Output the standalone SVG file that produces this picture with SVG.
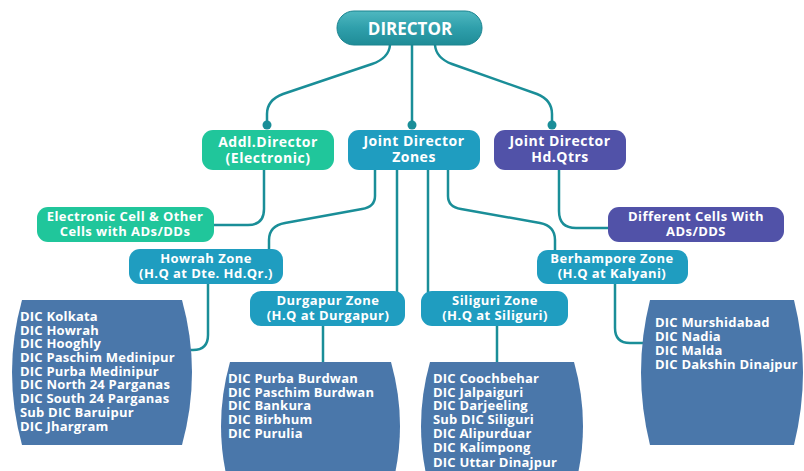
<svg xmlns="http://www.w3.org/2000/svg" width="804" height="471" viewBox="0 0 804 471">
<defs>
<linearGradient id="gDir" x1="0" y1="0" x2="0" y2="1">
<stop offset="0" stop-color="#4fb8c0"/>
<stop offset="0.5" stop-color="#2f9fab"/>
<stop offset="1" stop-color="#1f8c97"/>
</linearGradient>
<style>
.t{font-family:"Open Sans","Liberation Sans",sans-serif;font-weight:700;fill:#ffffff;}
.c{text-anchor:middle;}
.top{font-size:14px;letter-spacing:0.5px;}
.z{font-size:13px;letter-spacing:0.45px;}
.l{font-size:13px;letter-spacing:0.2px;}
.con{fill:none;stroke:#1a8e98;stroke-width:2.5;stroke-linejoin:round;stroke-linecap:round;}
.dot{fill:#1a8e98;}
.green{fill:#20c69b;}
.teal{fill:#1f9dc0;}
.purple{fill:#5152a8;}
.dic{fill:#4a77aa;}
</style>
</defs>
<rect width="804" height="471" fill="#ffffff"/>

<g id="connectors">
<path class="con" d="M390,45 Q389,58 372,64 L283,94 Q267,100 267,114 V124"/>
<path class="con" d="M412,45 V124"/>
<path class="con" d="M435,45 Q436,58 452,64 L537,94 Q552,100 552,114 V124"/>
<path class="con" d="M264,170 V209 Q264,225 248,225 H214"/>
<path class="con" d="M559,170 V211 Q559,228 576,228 H608"/>
<path class="con" d="M375,170 V196 Q375,207 362,209 L285,223 Q269,226 269,240 V249"/>
<path class="con" d="M397,170 V292"/>
<path class="con" d="M428,170 V292"/>
<path class="con" d="M448,170 V196 Q448,207 461,209 L540,223 Q555,226 555,240 V250"/>
<path class="con" d="M208,284 V335 Q208,350 193,350 H189"/>
<path class="con" d="M323,326 V362"/>
<path class="con" d="M497,326 V362"/>
<path class="con" d="M615,284 V328 Q615,343 630,343 H643"/>
<circle class="dot" cx="267" cy="125" r="4.5"/>
<circle class="dot" cx="412" cy="125" r="4.5"/>
<circle class="dot" cx="552" cy="125" r="4.5"/>
</g>

<g id="director">
<rect x="337" y="11" width="145" height="34" rx="17" fill="url(#gDir)" stroke="#1b8490" stroke-width="1"/>
<text class="t" x="410" y="35" text-anchor="middle" font-size="17" font-weight="600">DIRECTOR</text>
</g>

<g id="addl-director">
<rect class="green" x="202" y="130" width="132" height="40" rx="11"/>
<text class="t c top" x="268" y="147">Addl.Director</text>
<text class="t c top" x="268" y="163">(Electronic)</text>
</g>

<g id="jd-zones">
<rect class="teal" x="348" y="130" width="132" height="40" rx="11"/>
<text class="t c top" x="414" y="146">Joint Director</text>
<text class="t c top" x="414" y="162">Zones</text>
</g>

<g id="jd-hq">
<rect class="purple" x="494" y="130" width="132" height="40" rx="11"/>
<text class="t c top" x="560" y="146">Joint Director</text>
<text class="t c top" x="560" y="162">Hd.Qtrs</text>
</g>

<g id="electronic-cell">
<rect class="green" x="37" y="207" width="177" height="35" rx="11"/>
<text class="t c z" x="125" y="221">Electronic Cell &amp; Other</text>
<text class="t c z" x="125" y="236">Cells with ADs/DDs</text>
</g>

<g id="different-cells">
<rect class="purple" x="608" y="207" width="176" height="35" rx="11"/>
<text class="t c z" x="696" y="221">Different Cells With</text>
<text class="t c z" x="696" y="236">ADs/DDS</text>
</g>

<g id="howrah-zone">
<rect class="teal" x="129" y="249" width="154" height="35" rx="11"/>
<text class="t c z" x="206" y="263">Howrah Zone</text>
<text class="t c z" x="206" y="278">(H.Q at Dte. Hd.Qr.)</text>
</g>

<g id="berhampore-zone">
<rect class="teal" x="537" y="250" width="151" height="34" rx="11"/>
<text class="t c z" x="612" y="263">Berhampore Zone</text>
<text class="t c z" x="612" y="278">(H.Q at Kalyani)</text>
</g>

<g id="durgapur-zone">
<rect class="teal" x="250" y="291" width="155" height="35" rx="11"/>
<text class="t c z" x="328" y="305">Durgapur Zone</text>
<text class="t c z" x="328" y="320">(H.Q at Durgapur)</text>
</g>

<g id="siliguri-zone">
<rect class="teal" x="421" y="291" width="147" height="35" rx="11"/>
<text class="t c z" x="495" y="305">Siliguri Zone</text>
<text class="t c z" x="495" y="320">(H.Q at Siliguri)</text>
</g>

<g id="howrah-dics">
<path class="dic" d="M22,300 H182 Q202,372 182,445 H22 Q2,372 22,300 Z"/>
<text class="t l" x="20" y="321">DIC Kolkata</text>
<text class="t l" x="20" y="335">DIC Howrah</text>
<text class="t l" x="20" y="348">DIC Hooghly</text>
<text class="t l" x="20" y="362">DIC Paschim Medinipur</text>
<text class="t l" x="20" y="376">DIC Purba Medinipur</text>
<text class="t l" x="20" y="389">DIC North 24 Parganas</text>
<text class="t l" x="20" y="403">DIC South 24 Parganas</text>
<text class="t l" x="20" y="417">Sub DIC Baruipur</text>
<text class="t l" x="20" y="431">DIC Jhargram</text>
</g>

<g id="durgapur-dics">
<path class="dic" d="M230,362 H391 Q409,426 391,490 H230 Q212,426 230,362 Z"/>
<text class="t l" x="228" y="383">DIC Purba Burdwan</text>
<text class="t l" x="228" y="397">DIC Paschim Burdwan</text>
<text class="t l" x="228" y="410">DIC Bankura</text>
<text class="t l" x="228" y="424">DIC Birbhum</text>
<text class="t l" x="228" y="438">DIC Purulia</text>
</g>

<g id="siliguri-dics">
<path class="dic" d="M430,362 H574 Q592,426 574,490 H430 Q412,426 430,362 Z"/>
<text class="t l" x="433" y="383">DIC Coochbehar</text>
<text class="t l" x="433" y="397">DIC Jalpaiguri</text>
<text class="t l" x="433" y="410">DIC Darjeeling</text>
<text class="t l" x="433" y="424">Sub DIC Siliguri</text>
<text class="t l" x="433" y="438">DIC Alipurduar</text>
<text class="t l" x="433" y="452">DIC Kalimpong</text>
<text class="t l" x="433" y="467">DIC Uttar Dinajpur</text>
</g>

<g id="berhampore-dics">
<path class="dic" d="M650,300 H794 Q812,372 794,445 H650 Q632,372 650,300 Z"/>
<text class="t l" x="655" y="327">DIC Murshidabad</text>
<text class="t l" x="655" y="341">DIC Nadia</text>
<text class="t l" x="655" y="355">DIC Malda</text>
<text class="t l" x="655" y="369">DIC Dakshin Dinajpur</text>
</g>
</svg>
